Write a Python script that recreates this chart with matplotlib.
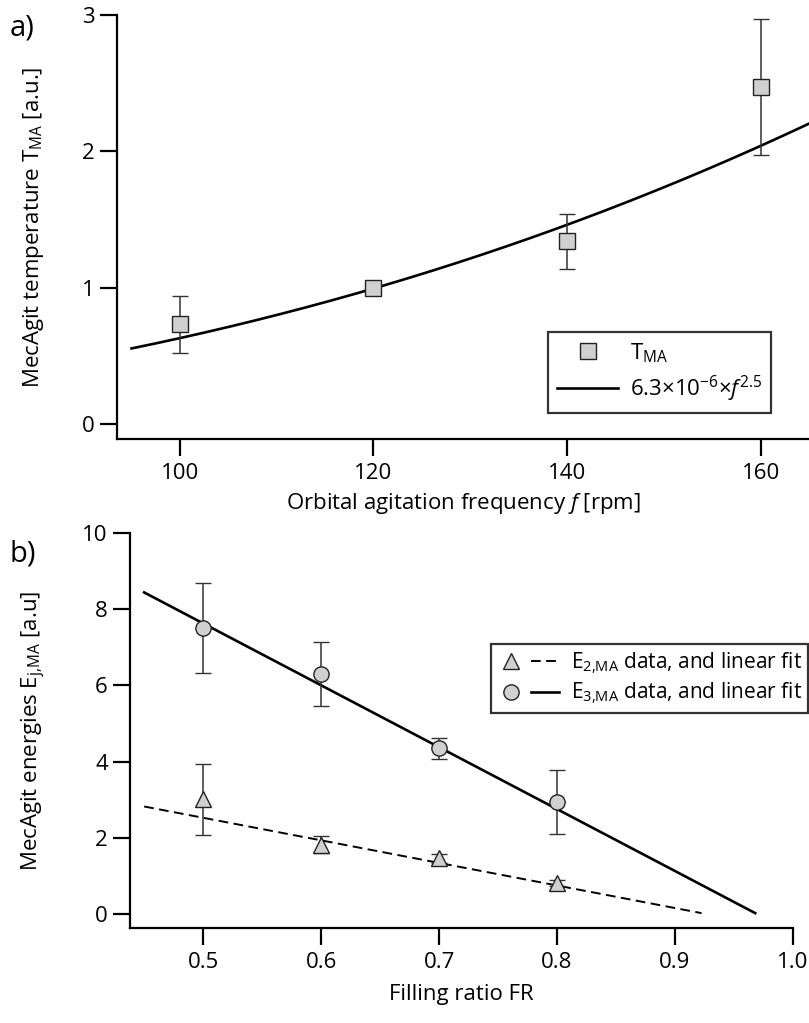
import numpy as np
import matplotlib
matplotlib.use("Agg")
import matplotlib.pyplot as plt
from matplotlib.lines import Line2D
from matplotlib.legend_handler import HandlerTuple

plt.rcParams['font.family'] = ['Open Sans', 'DejaVu Sans']
plt.rcParams['mathtext.fontset'] = 'custom'
plt.rcParams['mathtext.rm'] = 'Open Sans'
plt.rcParams['mathtext.it'] = 'Open Sans:italic'
plt.rcParams['mathtext.default'] = 'regular'

# ---- Panel a data ----
freq = [100, 120, 140, 160]
t_ma = [0.73, 1.00, 1.34, 2.47]
t_err = [0.21, 0.0, 0.20, 0.50]
fit_coef = 6.3e-6
fit_exp = 2.5
fit_range = [95, 165]

# ---- Panel b data ----
fr = [0.5, 0.6, 0.7, 0.8]
e2 = [3.01, 1.82, 1.46, 0.80]
e2_err = [0.93, 0.22, 0.12, 0.08]
e3 = [7.51, 6.30, 4.35, 2.93]
e3_err = [1.18, 0.83, 0.28, 0.84]
e2_fit_x = [0.45, 0.9225]
e2_fit_y = [2.82, 0.02]
e3_fit_x = [0.45, 0.968]
e3_fit_y = [8.44, 0.02]

FS = 16
LFS_B = 15
GRAY = '#d0d0d0'
ECOL = '#333333'
DASH = (0, (5, 2.8))

fig = plt.figure(figsize=(8.09, 10.23), dpi=100)

def style(ax):
    for s in ['top', 'right']:
        ax.spines[s].set_visible(False)
    for s in ['left', 'bottom']:
        ax.spines[s].set_linewidth(1.6)
    ax.tick_params(axis='y', direction='out', length=12, width=1.6, labelsize=FS, pad=4)
    ax.tick_params(axis='x', direction='out', length=12.5, width=1.6, labelsize=FS, pad=5)

# Panel a
axa = fig.add_axes([117/809, 1-439/1023, 1-117/809, (439-15)/1023])
style(axa)
ff = np.linspace(fit_range[0], fit_range[1], 300)
axa.plot(ff, fit_coef*ff**fit_exp, color='black', lw=1.9, zorder=2)
axa.errorbar(freq, t_ma, yerr=t_err, fmt='s', ms=11, mfc=GRAY, mec='#222222', mew=1.0,
             ecolor=ECOL, elinewidth=1.1, capsize=6, capthick=1.1, zorder=3)
axa.set_xlim(93.5, 165)
axa.set_ylim(-0.11, 3)
axa.set_xticks([100, 120, 140, 160])
axa.set_yticks([0, 1, 2, 3])
axa.set_xlabel(r'Orbital agitation frequency $\mathit{f}$ [rpm]', fontsize=FS, labelpad=5)
axa.set_ylabel(r'MecAgit temperature T$_{MA}$ [a.u.]', fontsize=FS, labelpad=26)
ha = [Line2D([], [], ls='none', marker='s', ms=11, mfc=GRAY, mec='#222222', mew=1.0),
      Line2D([], [], color='black', lw=1.9)]
la = axa.legend(ha, [r'T$_{MA}$', r'6.3×10$^{-6}$×$\mathit{f}^{2.5}$'],
                loc='upper left', bbox_to_anchor=(0.623, 0.252), borderaxespad=0,
                fontsize=FS, frameon=True, fancybox=False, edgecolor='black',
                handlelength=2.75, handletextpad=0.55, borderpad=0.4, labelspacing=0.4)
la.get_frame().set_linewidth(1.6)

# Panel b
axb = fig.add_axes([130/809, 1-928/1023, (793-130)/809, (928-533)/1023])
style(axb)
axb.plot(e3_fit_x, e3_fit_y, color='black', lw=1.9, zorder=2)
axb.plot(e2_fit_x, e2_fit_y, color='black', lw=1.4, ls=DASH, zorder=2)
axb.errorbar(fr, e3, yerr=e3_err, fmt='o', ms=11, mfc=GRAY, mec='#222222', mew=1.0,
             ecolor=ECOL, elinewidth=1.1, capsize=6, capthick=1.1, zorder=3)
axb.errorbar(fr, e2, yerr=e2_err, fmt='^', ms=11, mfc=GRAY, mec='#222222', mew=1.0,
             ecolor=ECOL, elinewidth=1.1, capsize=6, capthick=1.1, zorder=3)
axb.set_xlim(0.438, 1.0)
axb.set_ylim(-0.37, 10)
axb.set_xticks([0.5, 0.6, 0.7, 0.8, 0.9, 1.0])
axb.set_xticklabels(['0.5', '0.6', '0.7', '0.8', '0.9', '1.0'])
axb.set_yticks([0, 2, 4, 6, 8, 10])
axb.set_xlabel('Filling ratio FR', fontsize=FS, labelpad=8)
axb.set_ylabel(r'MecAgit energies E$_{\text{j,MA}}$ [a.u]', fontsize=FS, labelpad=25)
h2 = (Line2D([], [], ls='none', marker='^', ms=11, mfc=GRAY, mec='#222222', mew=1.0),
      Line2D([], [], color='black', lw=1.4, ls=DASH))
h3 = (Line2D([], [], ls='none', marker='o', ms=11, mfc=GRAY, mec='#222222', mew=1.0),
      Line2D([], [], color='black', lw=1.9))
lb = axb.legend([h2, h3], [r'E$_{\text{2,MA}}$ data, and linear fit',
                           r'E$_{\text{3,MA}}$ data, and linear fit'],
                handler_map={tuple: HandlerTuple(ndivide=2, pad=0.3)},
                loc='upper left', bbox_to_anchor=(0.544, 0.719), borderaxespad=0,
                fontsize=LFS_B, frameon=True, fancybox=False, edgecolor='black',
                handlelength=3.0, handletextpad=0.55, borderpad=0.3, labelspacing=0.25)
lb.get_frame().set_linewidth(1.6)

fig.text(10/809, 1-35/1023, 'a)', fontsize=21, va='baseline')
fig.text(10/809, 1-562/1023, 'b)', fontsize=21, va='baseline')

fig.savefig('out.png', dpi=100)
